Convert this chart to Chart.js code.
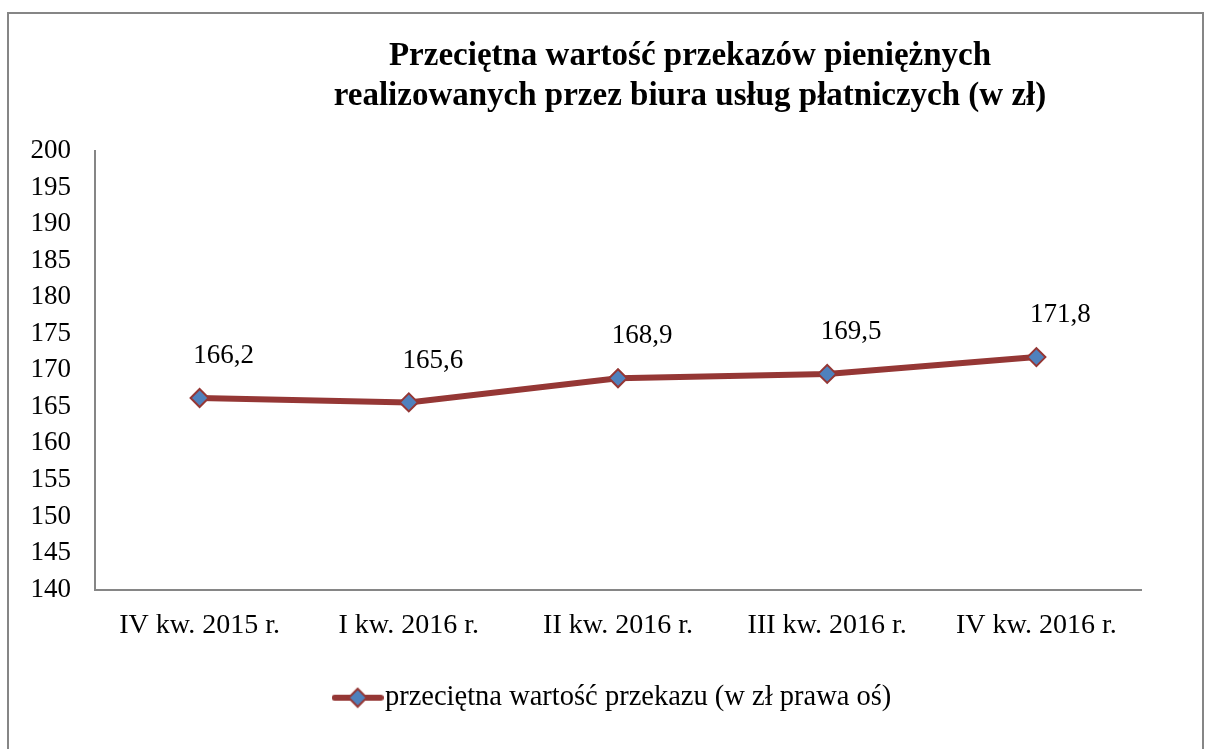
<!DOCTYPE html>
<html>
<head>
<meta charset="utf-8">
<script src="https://cdn.jsdelivr.net/npm/chart.js@4.4.1/dist/chart.umd.min.js"></script>
<style>
  html, body { margin: 0; padding: 0; background: #ffffff; }
  #wrap { width: 1206px; height: 749px; position: relative; }
</style>
</head>
<body>
<div id="wrap"><canvas id="c" width="1206" height="749"></canvas></div>
<script>
const categories = ["IV kw. 2015 r.", "I kw. 2016 r.", "II kw. 2016 r.", "III kw. 2016 r.", "IV kw. 2016 r."];
const values = [166.2, 165.6, 168.9, 169.5, 171.8];
const seriesName = "przeciętna wartość przekazu (w zł prawa oś)";
const titleLines = ["Przeciętna wartość przekazów pieniężnych", "realizowanych przez biura usług płatniczych (w zł)"];
const yMin = 140, yMax = 200, yStep = 5;

const FONT = "'Liberation Serif', 'Times New Roman', serif";
const LINE_COLOR = "#953735";
const MARKER_FILL = "#4F81BD";
const AXIS_COLOR = "#868686";

// legend symbol: line with diamond
const legendImg = document.createElement('canvas');
legendImg.width = 52; legendImg.height = 22;
(function () {
  const g = legendImg.getContext('2d');
  g.strokeStyle = LINE_COLOR; g.lineWidth = 6; g.lineCap = 'round';
  g.beginPath(); g.moveTo(3, 11); g.lineTo(49, 11); g.stroke();
  g.beginPath(); g.moveTo(26, 2); g.lineTo(35, 11); g.lineTo(26, 20); g.lineTo(17, 11); g.closePath();
  g.fillStyle = MARKER_FILL; g.fill();
  g.lineWidth = 2; g.strokeStyle = LINE_COLOR; g.stroke();
})();

const framePlugin = {
  id: 'frame',
  beforeDraw(chart) {
    const ctx = chart.ctx;
    ctx.save();
    ctx.strokeStyle = AXIS_COLOR; ctx.lineWidth = 2;
    ctx.strokeRect(8, 13, 1195, 760);
    ctx.restore();
  },
  afterDraw(chart) {
    const ctx = chart.ctx;
    ctx.save();
    ctx.fillStyle = '#000';
    ctx.font = "bold 33px " + FONT;
    ctx.textAlign = 'center'; ctx.textBaseline = 'middle';
    ctx.fillText(titleLines[0], 690, 56);
    ctx.fillText(titleLines[1], 690, 96);
    ctx.restore();
  }
};

const labelPlugin = {
  id: 'valueLabels',
  afterDatasetsDraw(chart) {
    const ctx = chart.ctx;
    const meta = chart.getDatasetMeta(0);
    ctx.save();
    ctx.fillStyle = '#000';
    ctx.font = "27px " + FONT;
    ctx.textAlign = 'center'; ctx.textBaseline = 'middle';
    meta.data.forEach((pt, i) => {
      const txt = values[i].toFixed(1).replace('.', ',');
      ctx.fillText(txt, pt.x + 24, pt.y - 42);
    });
    ctx.restore();
  }
};

new Chart(document.getElementById('c'), {
  type: 'line',
  data: {
    labels: categories,
    datasets: [{
      label: seriesName,
      data: values,
      borderColor: LINE_COLOR,
      borderWidth: 6,
      backgroundColor: MARKER_FILL,
      pointStyle: 'rectRot',
      pointRadius: 9,
      pointHoverRadius: 9,
      pointBackgroundColor: MARKER_FILL,
      pointBorderColor: LINE_COLOR,
      pointBorderWidth: 2,
      tension: 0,
      fill: false
    }]
  },
  options: {
    responsive: false,
    animation: false,
    events: [],
    layout: { padding: { top: 151, right: 65, bottom: 27, left: 0 } },
    plugins: {
      title: { display: false },
      tooltip: { enabled: false },
      legend: {
        display: true,
        position: 'bottom',
        fullSize: false,
        labels: {
          usePointStyle: true,
          pointStyle: legendImg,
          pointStyleWidth: 26,
          color: '#000',
          font: { family: FONT, size: 28.5 },
          padding: 10,
          generateLabels(chart) {
            return [{ text: seriesName, pointStyle: legendImg, fillStyle: MARKER_FILL, strokeStyle: LINE_COLOR, lineWidth: 0, datasetIndex: 0, hidden: false }];
          }
        }
      }
    },
    scales: {
      x: {
        offset: true,
        grid: { display: false, drawTicks: false, offset: true },
        border: { display: true, color: AXIS_COLOR, width: 2 },
        ticks: { color: '#000', font: { family: FONT, size: 28 }, padding: 19, maxRotation: 0, autoSkip: false },
        afterFit(s) { s.height = 84; }
      },
      y: {
        min: yMin, max: yMax,
        grid: { display: false, drawTicks: false },
        border: { display: true, color: AXIS_COLOR, width: 2 },
        ticks: { stepSize: yStep, color: '#000', font: { family: FONT, size: 27 }, padding: 24 },
        afterFit(s) { s.width = 95; }
      }
    }
  },
  plugins: [framePlugin, labelPlugin]
});
</script>
</body>
</html>
